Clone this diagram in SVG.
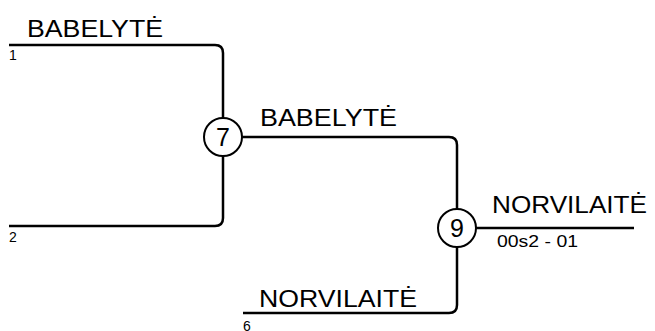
<svg xmlns="http://www.w3.org/2000/svg" width="655" height="331" viewBox="0 0 655 331">
<style>
.ln{fill:none;stroke:#000;stroke-width:2.5}
.nd{fill:#fff;stroke:#000;stroke-width:2}
.big{font-family:"Liberation Sans",Arial,sans-serif;font-size:24px;fill:#000}
.num{font-family:"Liberation Sans",Arial,sans-serif;font-size:25px;fill:#000;text-anchor:middle}
.sm{font-family:"Liberation Sans",Arial,sans-serif;font-size:14px;fill:#000}
.code{font-family:"Liberation Sans",Arial,sans-serif;font-size:17px;fill:#000}
</style>
<rect width="655" height="331" fill="#fff"/>
<g id="connectors">
<path class="ln" d="M9 45 H215 Q223 45 223 53 V218 Q223 226 215 226 H9"/>
<path class="ln" d="M223 137 H449 Q457 137 457 145 V305 Q457 313 449 313 H243"/>
<path class="ln" d="M457 228 H634"/>
</g>
<g id="n1"><text class="big" x="27" y="37" textLength="136" lengthAdjust="spacingAndGlyphs">BABELYTĖ</text><text class="sm" x="9" y="60">1</text></g>
<g id="n2"><text class="sm" x="9" y="242">2</text></g>
<g id="n6"><text class="big" x="259" y="307" textLength="158" lengthAdjust="spacingAndGlyphs">NORVILAITĖ</text><text class="sm" x="243" y="331">6</text></g>
<g id="n7"><circle class="nd" cx="223" cy="137" r="19"/><text class="num" x="223" y="146">7</text><text class="big" x="260" y="126" textLength="137" lengthAdjust="spacingAndGlyphs">BABELYTĖ</text></g>
<g id="n9"><circle class="nd" cx="457" cy="228" r="19"/><text class="num" x="457" y="237">9</text><text class="big" x="492" y="213" textLength="155" lengthAdjust="spacingAndGlyphs">NORVILAITĖ</text><text class="code" x="497" y="247" textLength="81" lengthAdjust="spacingAndGlyphs">00s2 - 01</text></g>
</svg>
